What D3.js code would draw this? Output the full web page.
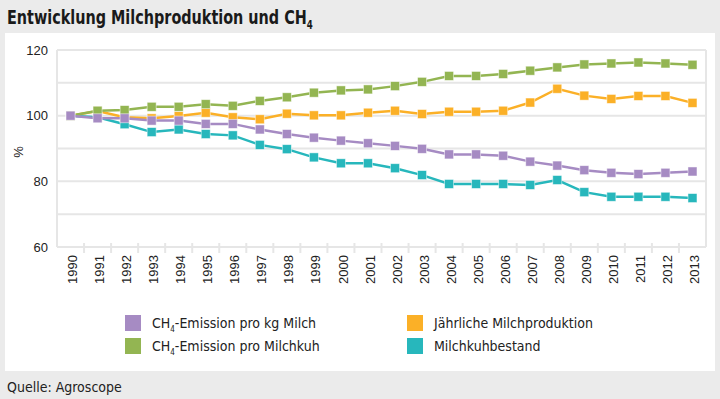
<!DOCTYPE html>
<html>
<head>
<meta charset="utf-8">
<script src="https://cdn.jsdelivr.net/npm/d3@7"></script>
<style>
  body { margin: 0; background: #ebebeb; }
  svg { display: block; }
</style>
</head>
<body>
<svg id="chart" width="720" height="399"></svg>
<script>
const years = d3.range(1990, 2014).map(String)

const emissionPerKg = [100, 99.2, 99.2, 98.5, 98.5, 97.5, 97.5, 95.8, 94.4, 93.3, 92.4, 91.6,
  90.8, 89.9, 88.2, 88.2, 87.8, 86.0, 84.8, 83.4, 82.6, 82.2, 82.6, 83.0]
const emissionPerCow = [100, 101.5, 101.7, 102.7, 102.7, 103.5, 103.0, 104.5, 105.6, 107.0, 107.7, 108.0,
  109.0, 110.3, 112.1, 112.1, 112.7, 113.7, 114.7, 115.6, 115.9, 116.2, 115.9, 115.5]
const milkProduction = [100, 101.4, 99.5, 99.2, 99.9, 100.9, 99.5, 98.9, 100.6, 100.1, 100.1, 100.9,
  101.5, 100.5, 101.2, 101.2, 101.5, 104.0, 108.2, 106.1, 105.1, 106.0, 106.0, 103.9]
const cowStock = [100, 99.5, 97.4, 95.0, 95.8, 94.4, 94.0, 91.1, 89.8, 87.3, 85.5, 85.5,
  84.0, 81.9, 79.2, 79.2, 79.2, 78.9, 80.4, 76.7, 75.3, 75.3, 75.3, 74.9]

const yTicks = [60, 80, 100, 120]
const yGrid = [60, 70, 80, 90, 100, 110, 120]

// legend order: column-wise, CH4 label gets subscript
const series = [
  { name: "Milchkuhbestand", values: cowStock, color: "#27b7bc", col: 1, row: 1 },
  { name: "Jährliche Milchproduktion", values: milkProduction, color: "#fbb027", col: 1, row: 0 },
  { name: "-Emission pro Milchkuh", ch4: true, values: emissionPerCow, color: "#93b552", col: 0, row: 1 },
  { name: "-Emission pro kg Milch", ch4: true, values: emissionPerKg, color: "#a68bc3", col: 0, row: 0 }
]

const svg = d3.select("#chart")
const fontAxis = "'Liberation Sans', Arial, sans-serif"
const fontNarrow = "'DejaVu Sans Condensed', sans-serif"

// title (squeezed a bit, the original uses a narrower face)
const title = svg.append("text")
  .attr("transform", "translate(7,24) scale(0.8,1)")
  .attr("font-family", fontNarrow)
  .attr("font-weight", "bold")
  .attr("font-size", 20)
  .attr("fill", "#1a1a1a")
  .text("Entwicklung Milchproduktion und CH")
title.append("tspan").attr("font-size", 12).attr("dy", 5).text("4")

// white panel
svg.append("rect")
  .attr("x", 5).attr("y", 33)
  .attr("width", 710).attr("height", 338)
  .attr("fill", "#fff")

const margin = { left: 57, right: 706, top: 50, bottom: 247 }

const x = d3.scaleBand().domain(years).range([margin.left, margin.right])
const y = d3.scaleLinear().domain([60, 120]).range([margin.bottom, margin.top])

// grid
svg.append("g")
  .selectAll("line")
  .data(yGrid)
  .join("line")
  .attr("x1", margin.left).attr("x2", margin.right)
  .attr("y1", d => y(d)).attr("y2", d => y(d))
  .attr("stroke", "#e6e6e6").attr("stroke-width", 2)

// frame sides
svg.append("path")
  .attr("d", `M${margin.left},${margin.bottom}V${margin.top}M${margin.right},${margin.top}V${margin.bottom}`)
  .attr("stroke", "#e6e6e6").attr("stroke-width", 2).attr("fill", "none")

// x ticks at band edges
svg.append("g")
  .selectAll("line")
  .data(years.slice(1))
  .join("line")
  .attr("x1", d => x(d)).attr("x2", d => x(d))
  .attr("y1", margin.bottom - 4).attr("y2", margin.bottom + 6)
  .attr("stroke", "#e6e6e6").attr("stroke-width", 2)

// y labels
svg.append("g")
  .selectAll("text")
  .data(yTicks)
  .join("text")
  .attr("x", 48).attr("y", d => y(d))
  .attr("dy", "0.35em")
  .attr("text-anchor", "end")
  .attr("font-family", fontAxis).attr("font-size", 13)
  .attr("fill", "#222")
  .text(d => d)

// x labels
svg.append("g")
  .selectAll("text")
  .data(years)
  .join("text")
  .attr("transform", d => `translate(${x(d) + x.bandwidth() / 2 + 2},${margin.bottom + 8}) rotate(-90)`)
  .attr("dy", "0.35em")
  .attr("text-anchor", "end")
  .attr("font-family", fontAxis).attr("font-size", 13)
  .attr("fill", "#222")
  .text(d => d)

svg.append("text")
  .attr("transform", "translate(18,152) rotate(-90)")
  .attr("dy", "0.35em")
  .attr("text-anchor", "middle")
  .attr("font-family", fontAxis).attr("font-size", 13)
  .attr("fill", "#222")
  .text("%")

// lines + markers
const line = d3.line()
  .x((d, i) => x(years[i]) + x.bandwidth() / 2)
  .y(d => y(d))

const ms = 9
series.forEach(s => {
  const g = svg.append("g")
  g.append("path")
    .attr("d", line(s.values))
    .attr("fill", "none")
    .attr("stroke", s.color)
    .attr("stroke-width", 2.5)
  g.selectAll("rect")
    .data(s.values)
    .join("rect")
    .attr("x", (d, i) => x(years[i]) + x.bandwidth() / 2 - ms / 2)
    .attr("y", d => y(d) - ms / 2)
    .attr("width", ms).attr("height", ms)
    .attr("fill", s.color)
    .attr("stroke", "#fff").attr("stroke-opacity", 0.6).attr("stroke-width", 0.8)
})

// legend
const legendCols = [125, 407]
const legendRows = [323, 346]
const legend = svg.append("g")
  .selectAll("g")
  .data(series)
  .join("g")
  .attr("transform", s => `translate(${legendCols[s.col]},${legendRows[s.row]})`)

legend.append("rect")
  .attr("x", 0).attr("y", -8)
  .attr("width", 16).attr("height", 16)
  .attr("fill", s => s.color)

legend.append("text")
  .attr("x", 27).attr("y", 5)
  .attr("font-family", fontNarrow).attr("font-size", 14)
  .attr("fill", "#222")
  .each(function(s) {
    const t = d3.select(this)
    if (s.ch4) {
      t.append("tspan").text("CH")
      t.append("tspan").attr("font-size", 8).attr("dy", 4).text("4")
      t.append("tspan").attr("dy", -4).text(s.name)
    } else {
      t.text(s.name)
    }
  })

// source
svg.append("text")
  .attr("x", 7).attr("y", 392)
  .attr("font-family", fontNarrow).attr("font-size", 14)
  .attr("fill", "#222")
  .text("Quelle: Agroscope")
</script>
</body>
</html>
